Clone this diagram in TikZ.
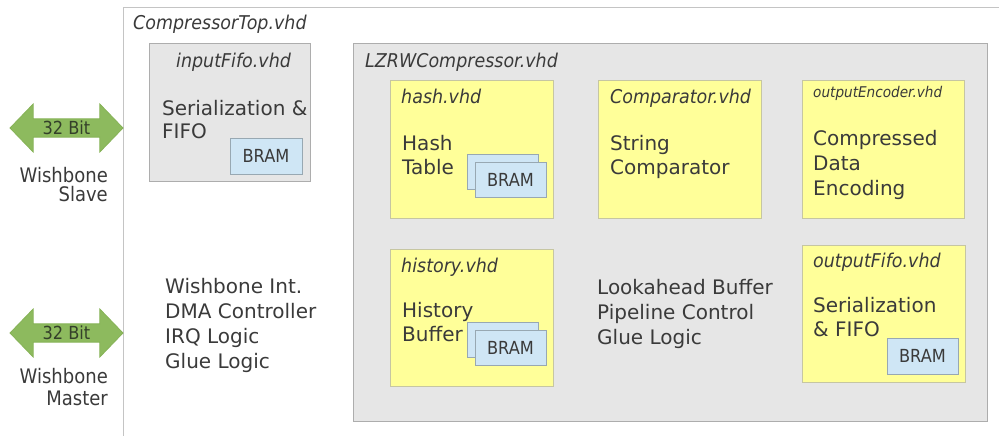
\documentclass[tikz,border=0pt]{standalone}
\usepackage{fontspec}
\setmainfont{DejaVu Sans}
\newfontfamily\condfont[FakeStretch=0.9]{DejaVu Sans}
\newfontfamily\labelfont[FakeStretch=0.92]{DejaVu Sans Oblique}
\usetikzlibrary{shapes.arrows}

\definecolor{framegray}{HTML}{C4C4C4}
\definecolor{boxgray}{HTML}{E6E6E6}
\definecolor{boxedge}{HTML}{ADADAD}
\definecolor{modyellow}{HTML}{FFFF99}
\definecolor{modedge}{HTML}{C6C6A2}
\definecolor{bramblue}{HTML}{CFE6F5}
\definecolor{bramedge}{HTML}{98A8B2}
\definecolor{busgreen}{HTML}{8DBA5E}
\definecolor{busedge}{HTML}{86B257}
\definecolor{businkc}{HTML}{34402A}
\definecolor{ink}{HTML}{3A3A3A}

\tikzset{
  graybox/.style={draw=boxedge, fill=boxgray, line width=1pt, inner sep=0pt, outer sep=0pt, anchor=north west},
  modbox/.style={draw=modedge, fill=modyellow, line width=1pt, inner sep=0pt, outer sep=0pt, anchor=north west},
  brambox/.style={draw=bramedge, fill=bramblue, line width=1pt, inner sep=0pt, outer sep=0pt, anchor=north west,
    font=\condfont\fontsize{18}{20}\selectfont, text=ink},
  filelabel/.style={anchor=base west, inner sep=0pt, text=ink, font=\labelfont\fontsize{19}{22}\selectfont},
  bodytext/.style={anchor=base west, inner sep=0pt, text=ink, font=\fontsize{20}{25}\selectfont},
  bus/.style={double arrow, draw=busedge, fill=busgreen, line width=0.8pt, inner sep=0pt, outer sep=0pt,
    minimum width=48pt, minimum height=113pt, double arrow head extend=12pt, double arrow tip angle=92,
    text=businkc, font=\condfont\fontsize{18}{20}\selectfont},
  buslabel/.style={anchor=base east, inner sep=0pt, text=ink, font=\condfont\fontsize{20}{22}\selectfont}
}

\begin{document}
\begin{tikzpicture}[x=1pt,y=-1pt]
\useasboundingbox (0,0) rectangle (999,436);

% top-level entity frame
\coordinate (topA) at (123,436);
\coordinate (topB) at (123,8);
\coordinate (topC) at (999,8);
\draw[framegray, line width=1pt] (topA) -- (topB) -- (topC);
\node[filelabel] (toplbl) at (133,30) {CompressorTop.vhd};

% wishbone buses
\node[bus] (slavebus) at (66.5,128) {32 Bit};
\node[buslabel] (slave1) at (108,182) {Wishbone};
\node[buslabel] (slave2) at (108,201) {Slave};
\node[bus] (masterbus) at (66.5,333) {32 Bit};
\node[buslabel] (master1) at (108,383) {Wishbone};
\node[buslabel] (master2) at (108,405) {Master};

% input FIFO
\node[graybox, minimum width=161pt, minimum height=137pt] (infifo) at (149,44) {};
\node[filelabel] (infifolbl) at (176,67) {inputFifo.vhd};
\node[bodytext] (infifo1) at (162,115) {Serialization \&};
\node[bodytext] (infifo2) at (162,138) {FIFO};
\node[brambox, minimum width=72pt, minimum height=36pt] (inbram) at (230,138) {BRAM};

% top-level logic
\node[bodytext] (top1) at (165,293) {Wishbone Int.};
\node[bodytext] (top2) at (165,318) {DMA Controller};
\node[bodytext] (top3) at (165,343) {IRQ Logic};
\node[bodytext] (top4) at (165,368) {Glue Logic};

% compressor core
\node[graybox, minimum width=634pt, minimum height=377pt] (core) at (353,44) {};
\node[filelabel] (corelbl) at (365,67) {LZRWCompressor.vhd};

% hash table
\node[modbox, minimum width=163pt, minimum height=137pt] (hash) at (390,81) {};
\node[filelabel] (hashlbl) at (401,103) {hash.vhd};
\node[bodytext] (hash1) at (402,150) {Hash};
\node[bodytext] (hash2) at (402,174) {Table};
\node[brambox, minimum width=71pt, minimum height=35pt] (hashbramb) at (467,154) {};
\node[brambox, minimum width=71pt, minimum height=35pt] (hashbram) at (475,162) {BRAM};

% comparator
\node[modbox, minimum width=163pt, minimum height=137pt] (comp) at (598,81) {};
\node[filelabel] (complbl) at (610,103) {Comparator.vhd};
\node[bodytext] (comp1) at (610,150) {String};
\node[bodytext] (comp2) at (610,174) {Comparator};

% output encoder
\node[modbox, minimum width=162pt, minimum height=137pt] (enc) at (802,81) {};
\node[filelabel, font=\labelfont\fontsize{14.8}{16}\selectfont] (enclbl) at (813,98) {outputEncoder.vhd};
\node[bodytext] (enc1) at (813,145) {Compressed};
\node[bodytext] (enc2) at (813,170) {Data};
\node[bodytext] (enc3) at (813,195) {Encoding};

% history buffer
\node[modbox, minimum width=163pt, minimum height=137pt] (hist) at (390,249) {};
\node[filelabel] (histlbl) at (401,272) {history.vhd};
\node[bodytext] (hist1) at (402,317) {History};
\node[bodytext] (hist2) at (402,341) {Buffer};
\node[brambox, minimum width=71pt, minimum height=35pt] (histbramb) at (467,322) {};
\node[brambox, minimum width=71pt, minimum height=35pt] (histbram) at (475,330) {BRAM};

% core logic
\node[bodytext] (core1) at (597,294) {Lookahead Buffer};
\node[bodytext] (core2) at (597,319) {Pipeline Control};
\node[bodytext] (core3) at (597,344) {Glue Logic};

% output FIFO
\node[modbox, minimum width=163pt, minimum height=137pt] (outfifo) at (802,245) {};
\node[filelabel] (outfifolbl) at (813,267) {outputFifo.vhd};
\node[bodytext] (outfifo1) at (813,312) {Serialization};
\node[bodytext] (outfifo2) at (813,336) {\& FIFO};
\node[brambox, minimum width=71pt, minimum height=36pt] (outbram) at (887,338) {BRAM};
\end{tikzpicture}
\end{document}
